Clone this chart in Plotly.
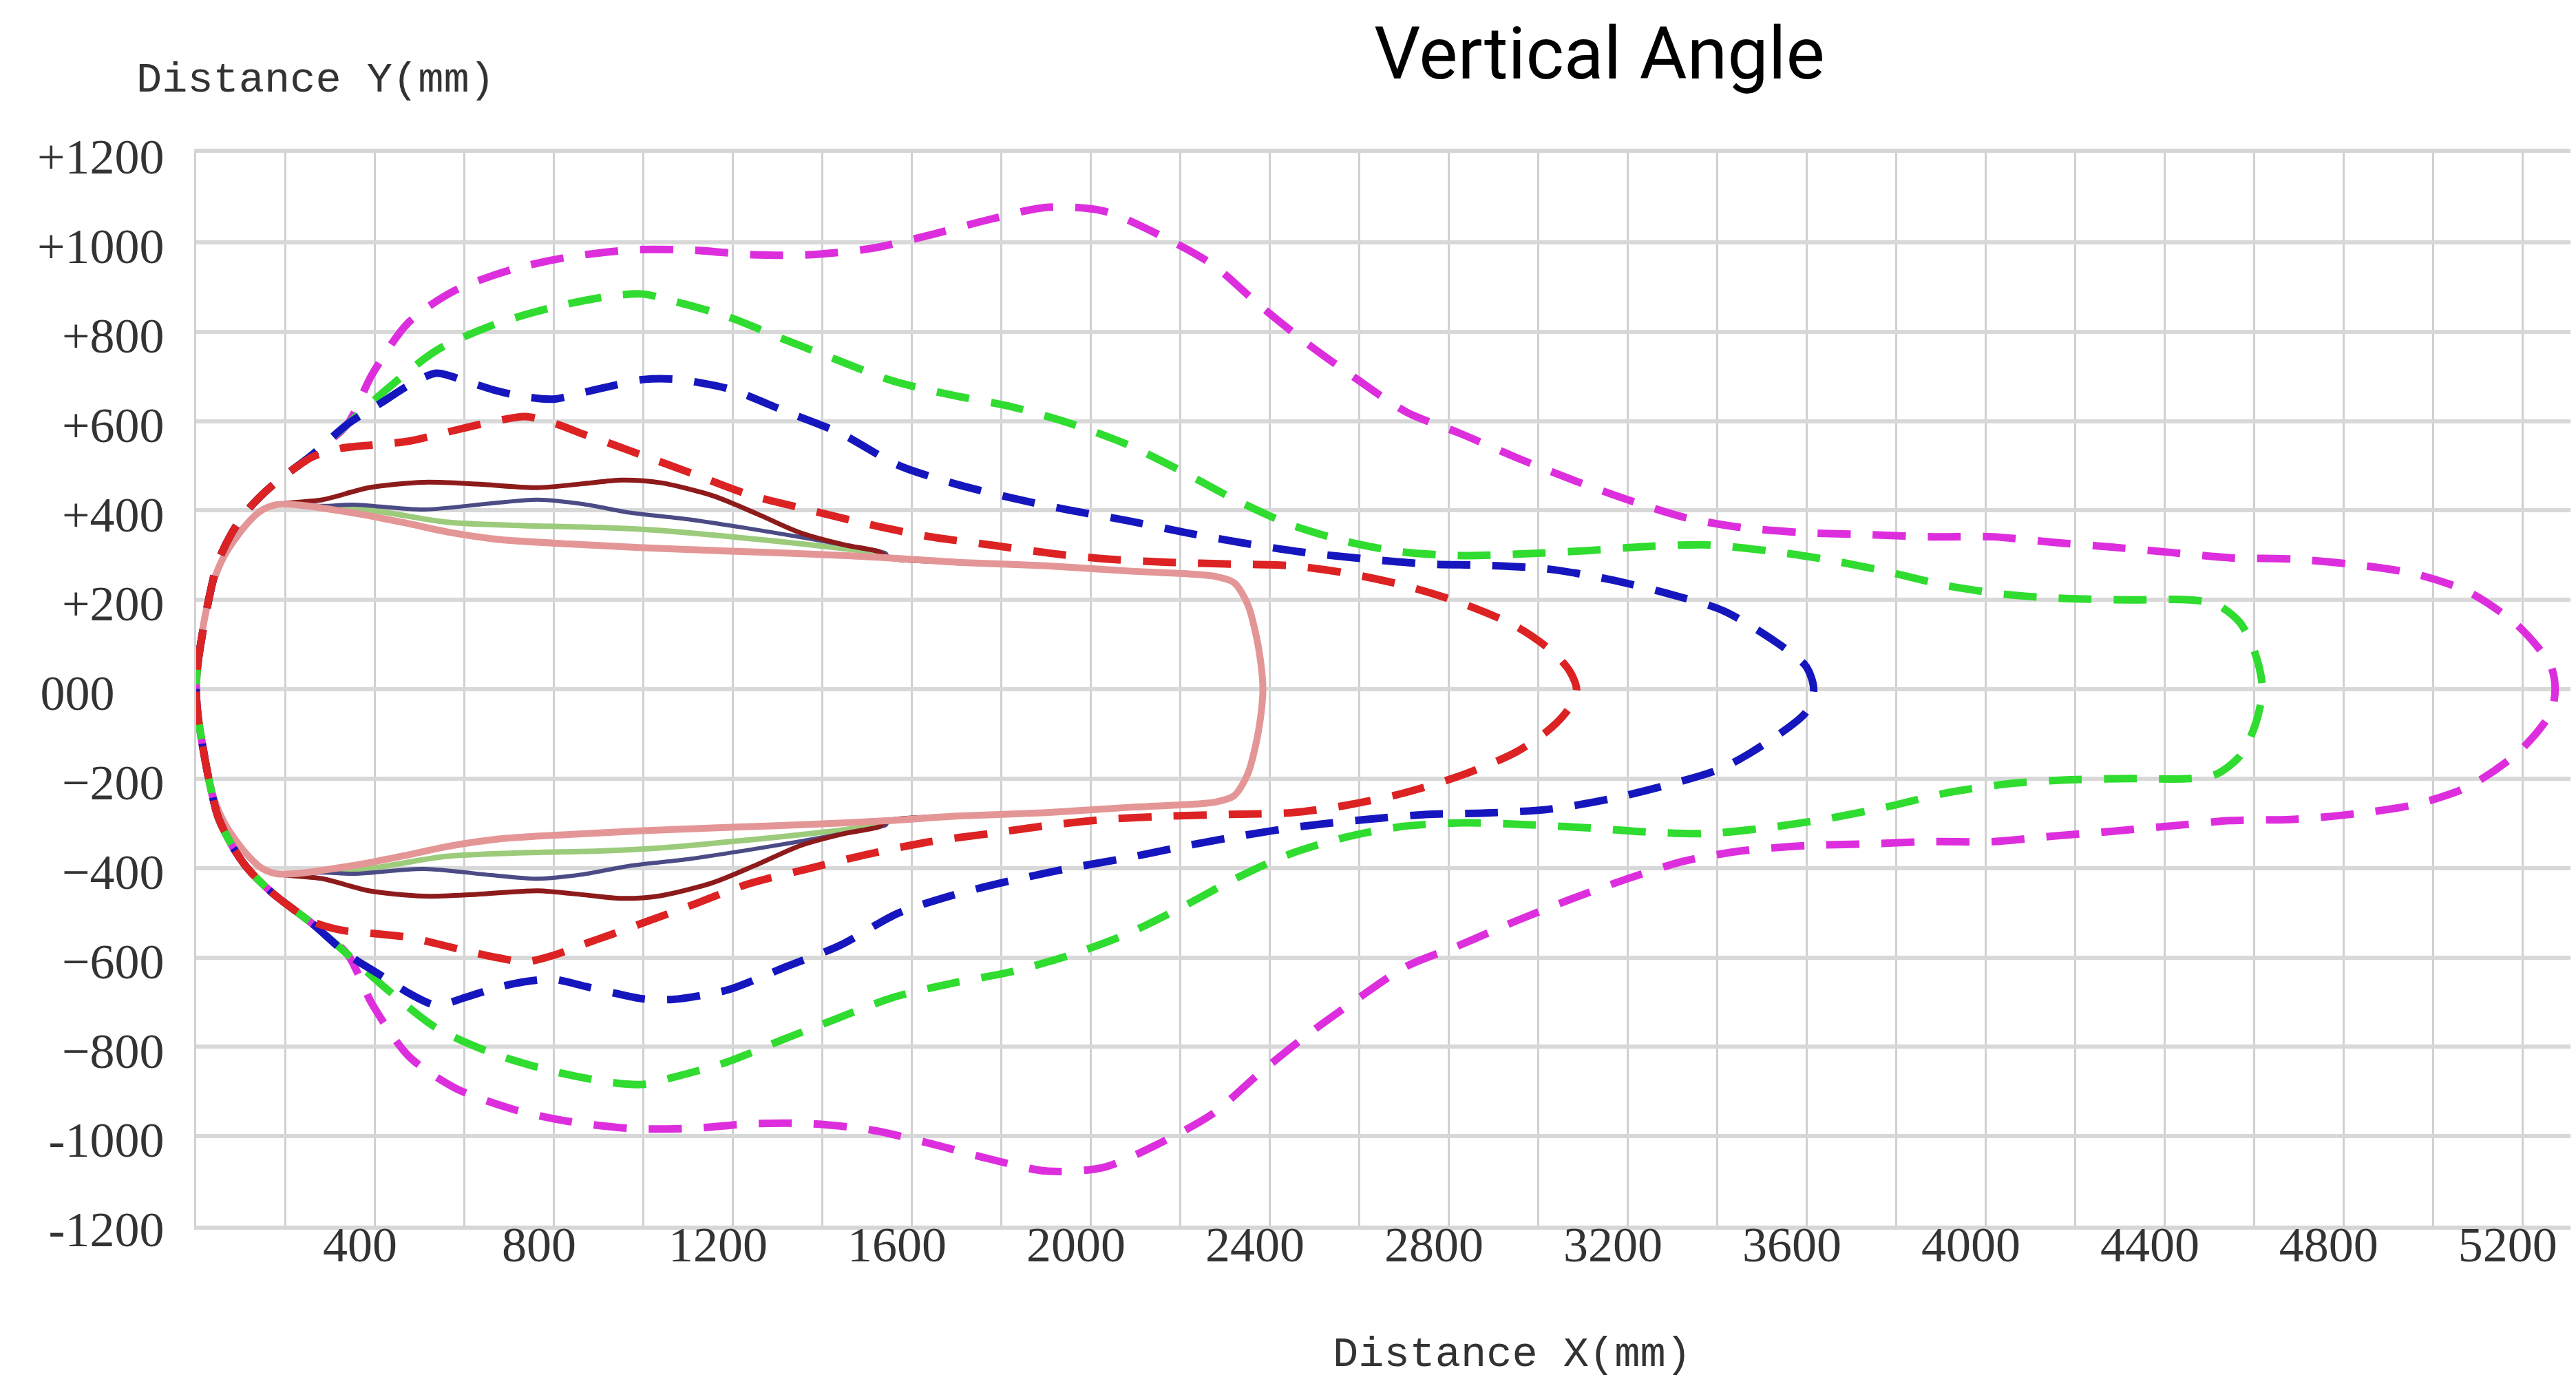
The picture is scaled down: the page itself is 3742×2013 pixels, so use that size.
import plotly.graph_objects as go

# ---------------- data (upper half of each symmetric light-distribution curve, mm) ----------------
# dashed curves
RED_X = [0, 4, 15, 30, 49, 80, 110, 139, 175, 214, 260, 324, 400, 475, 540, 606, 670, 736, 800, 867, 930,
         998, 1105, 1233, 1370, 1498, 1635, 1773, 1910, 2037, 2174, 2312, 2450, 2569, 2696, 2824, 2951, 3030,
         3070, 3085]
RED_Y = [0, 60, 130, 210, 286, 350, 395, 427, 460, 490, 520, 539, 547, 555, 570, 586, 600, 610, 595, 570, 548,
         523, 484, 436, 401, 370, 342, 323, 304, 291, 284, 280, 276, 260, 233, 194, 140, 85, 40, 0]

BLUE_X = [0, 4, 15, 30, 49, 80, 110, 139, 175, 214, 260, 338, 414, 475, 537, 600, 667, 730, 798, 870, 935,
          1000, 1066, 1130, 1194, 1321, 1439, 1567, 1694, 1822, 1949, 2077, 2214, 2341, 2470, 2618, 2755, 2883,
          3020, 3157, 3285, 3412, 3530, 3598, 3615]
BLUE_Y = [0, 60, 130, 210, 286, 350, 395, 427, 460, 490, 525, 593, 641, 680, 707, 690, 669, 655, 649, 665, 680,
          693, 694, 685, 671, 620, 573, 502, 460, 428, 401, 378, 350, 327, 307, 291, 280, 277, 269, 246, 215,
          176, 106, 51, 0]

GREEN_X = [0, 4, 15, 30, 49, 80, 110, 139, 175, 214, 260, 338, 427, 537, 661, 791, 928, 1000, 1056, 1184, 1311,
           1429, 1556, 1684, 1822, 1949, 2077, 2204, 2322, 2441, 2569, 2696, 2833, 2971, 3108, 3236, 3373, 3510,
           3638, 3775, 3912, 4045, 4178, 4321, 4454, 4515, 4567, 4600, 4618]
GREEN_Y = [0, 60, 130, 210, 286, 350, 395, 427, 460, 490, 525, 593, 672, 758, 814, 853, 880, 884, 871, 835, 784,
           738, 690, 659, 632, 596, 549, 487, 424, 370, 331, 307, 299, 303, 310, 319, 323, 310, 291, 264, 232,
           212, 203, 200, 200, 190, 150, 85, 0]

MAGENTA_X = [0, 4, 15, 30, 49, 80, 110, 139, 175, 214, 260, 338, 393, 475, 578, 709, 833, 977, 1115, 1243, 1370,
             1508, 1635, 1773, 1900, 2027, 2155, 2273, 2372, 2481, 2588, 2705, 2823, 2951, 3069, 3196, 3324,
             3451, 3598, 3735, 3882, 4015, 4147, 4280, 4413, 4546, 4689, 4822, 4955, 5078, 5190, 5262, 5272]
MAGENTA_Y = [0, 60, 130, 210, 286, 350, 395, 427, 460, 490, 525, 593, 704, 821, 892, 940, 967, 983, 982, 972, 972,
             986, 1015, 1051, 1078, 1070, 1015, 949, 863, 775, 698, 620, 573, 518, 471, 425, 385, 362, 350, 346,
             341, 341, 329, 318, 306, 294, 291, 279, 259, 218, 141, 53, 0]

# solid curves
PINK_X = [0, 4, 16, 35, 63, 110, 146, 180, 230, 283, 377, 472, 566, 676, 833, 990, 1195, 1383, 1547, 1700,
          1900, 2091, 2233, 2280, 2320, 2350, 2370, 2381, 2384]
PINK_Y = [0, 60, 143, 230, 299, 366, 400, 413, 412, 405, 390, 371, 351, 335, 325, 317, 309, 302, 294, 284,
          276, 264, 257, 252, 238, 190, 115, 45, 0]

MAROON_X = [283, 386, 509, 626, 763, 866, 950, 1038, 1154, 1252, 1350, 1449, 1525]
MAROON_Y = [424, 451, 463, 459, 451, 460, 468, 462, 433, 393, 350, 323, 308]

NAVY_X = [283, 352, 509, 660, 763, 866, 969, 1100, 1226, 1352, 1478, 1541]
NAVY_Y = [410, 413, 402, 416, 424, 414, 395, 380, 361, 340, 317, 304]

LGREEN_X = [283, 386, 558, 730, 901, 1038, 1226, 1383, 1509]
LGREEN_Y = [406, 401, 374, 366, 362, 355, 338, 322, 306]

X_TICKS = list(range(0, 5400, 200))
X_LABELS = [str(v) if (v % 400 == 0 and v > 0) else "" for v in X_TICKS]
Y_TICKS = [1200, 1000, 800, 600, 400, 200, 0, -200, -400, -600, -800, -1000, -1200]
Y_LABELS = ["+1200", "+1000", "+800", "+600", "+400", "+200", "000\u2007\u2007",
            "\u2212200", "\u2212400", "\u2212600", "\u2212800", "-1000", "-1200"]


def solid_with_shared(own_x, own_y):
    """Left arc of the pink curve, own bulge, then pink's tail to the tip."""
    head = [(x, y) for x, y in zip(PINK_X, PINK_Y) if x <= 180]
    tail = [(x, y) for x, y in zip(PINK_X, PINK_Y) if x > own_x[-1]]
    pts = head + list(zip(own_x, own_y)) + tail
    return [p[0] for p in pts], [p[1] for p in pts]


def closed(xs, ys):
    fx = list(xs) + list(xs[::-1][1:])
    fy = list(ys) + [-v for v in ys[::-1][1:]]
    return fx, fy


fig = go.Figure()

solids = [
    ("light green", *solid_with_shared(LGREEN_X, LGREEN_Y), "#9CCB7C", 8),
    ("navy", *solid_with_shared(NAVY_X, NAVY_Y), "#4B4B86", 6),
    ("maroon", *solid_with_shared(MAROON_X, MAROON_Y), "#8E1B1B", 7),
    ("pink", PINK_X, PINK_Y, "#E49696", 10),
]
for name, xs, ys, col, w in solids:
    fx, fy = closed(xs, ys)
    fig.add_trace(go.Scatter(x=fx, y=fy, mode="lines", name=name,
                             line=dict(color=col, width=w, shape="spline", smoothing=0.8)))

dashed = [
    ("magenta", MAGENTA_X, MAGENTA_Y, "#DD2EDD"),
    ("green", GREEN_X, GREEN_Y, "#2FDC2F"),
    ("blue", BLUE_X, BLUE_Y, "#1616BE"),
    ("red", RED_X, RED_Y, "#DC2222"),
]
for name, xs, ys, col in dashed:
    fx, fy = closed(xs, ys)
    fig.add_trace(go.Scatter(x=fx, y=fy, mode="lines", name=name,
                             line=dict(color=col, width=11, dash="48px,32px", shape="spline", smoothing=0.8)))

W, H = 3742, 2013
L, R, T, B = 277, 0, 214, 241

fig.update_layout(
    width=W, height=H,
    margin=dict(l=L, r=R, t=T, b=B, autoexpand=False),
    paper_bgcolor="white", plot_bgcolor="white",
    showlegend=False,
    xaxis=dict(range=[0, 5331], tickmode="array", tickvals=X_TICKS, ticktext=X_LABELS,
               showgrid=True, gridcolor="#D0D0D0", gridwidth=3, zeroline=False,
               showline=True, linecolor="#D6D6D6", linewidth=6, mirror=True,
               ticks="", tickfont=dict(family="Liberation Serif", size=72, color="#333333"),
               ticklabelshift=-22, ticklabelstandoff=-40),
    yaxis=dict(range=[-1200, 1200], tickmode="array", tickvals=Y_TICKS, ticktext=Y_LABELS,
               showgrid=True, gridcolor="#D8D8D8", gridwidth=6, zeroline=False,
               showline=True, linecolor="#D0D0D0", linewidth=3,
               ticks="", tickfont=dict(family="Liberation Serif", size=72, color="#333333"),
               ticklabelstandoff=29, ticklabelshift=5),
)

PW = W - L - R
PH = H - T - B
fig.add_annotation(text="Vertical Angle", xref="paper", yref="paper",
                   x=(2315 - L) / PW, y=(H - B - 70) / PH, xanchor="center", yanchor="middle",
                   showarrow=False, font=dict(family="Roboto", size=106, color="black"))
fig.add_annotation(text="Distance Y(mm)", xref="paper", yref="paper",
                   x=(450 - L) / PW, y=(H - B - 108) / PH, xanchor="center", yanchor="middle",
                   showarrow=False, font=dict(family="Liberation Mono", size=62, color="#333333"))
fig.add_annotation(text="Distance X(mm)", xref="paper", yref="paper",
                   x=(2188 - L) / PW, y=(H - B - 1960) / PH, xanchor="center", yanchor="middle",
                   showarrow=False, font=dict(family="Liberation Mono", size=62, color="#333333"))

fig.write_html("out.html")
